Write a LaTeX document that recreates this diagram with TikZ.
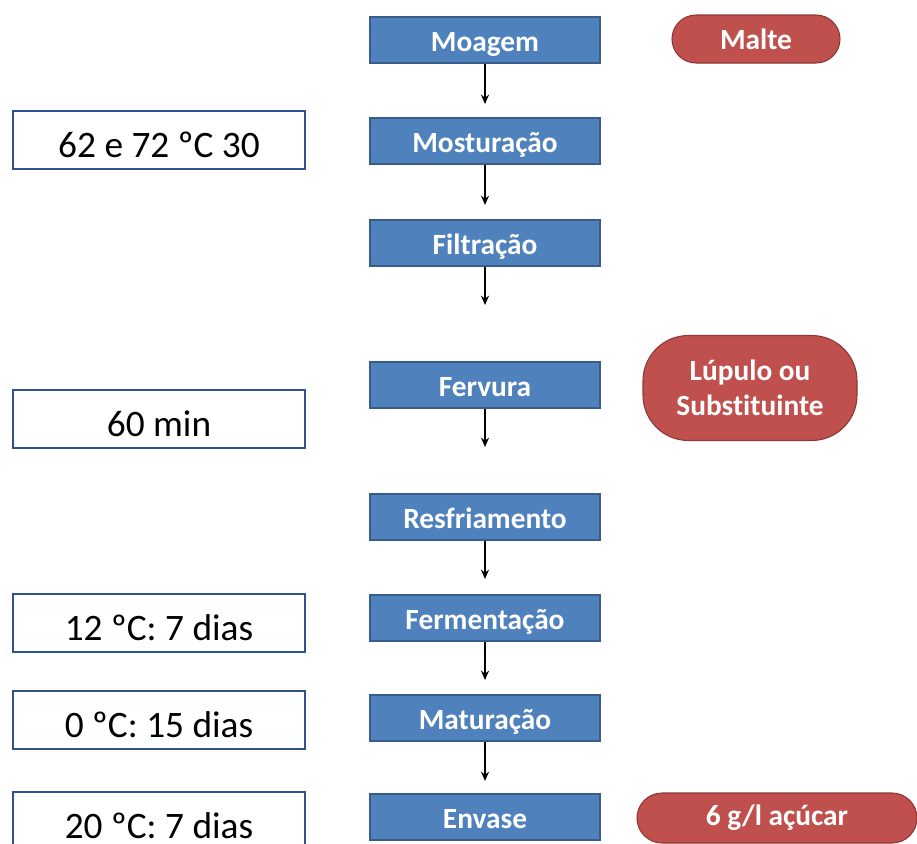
\documentclass[tikz,border=0pt]{standalone}
\usepackage{xcolor}
\usepackage{fontspec}
\setmainfont[Ligatures=NoCommon]{Carlito}
\usetikzlibrary{arrows.meta}

\definecolor{stepblue}{HTML}{4F81BD}
\definecolor{stepline}{HTML}{385D8A}
\definecolor{addred}{HTML}{C0504D}
\definecolor{addline}{HTML}{8C3836}
\definecolor{noteline}{HTML}{2F528F}

\begin{document}
\begin{tikzpicture}[x=0.75pt,y=-0.75pt,
	stepbox/.style={draw=stepline, line width=1.1pt, fill=stepblue, text=white,
		minimum width=172.5pt, minimum height=34.5pt, inner sep=0pt,
		text height=19pt, text depth=2pt,
		font=\fontsize{22}{26}\selectfont\bfseries},
	notebox/.style={draw=noteline, line width=1.5pt, fill=white,
		minimum width=219pt, minimum height=43.5pt, inner sep=0pt,
		text height=29pt, text depth=3pt,
		font=\fontsize{28}{32}\selectfont},
	addbox/.style={draw=addline, line width=0.8pt, fill=addred, text=white,
		inner sep=0pt, align=center,
		font=\fontsize{22}{26}\selectfont\bfseries},
	flow/.style={-{Stealth[length=7pt,width=6pt]}, line width=1.4pt}]
				\useasboundingbox (0,0) rectangle (917,843);
				
				% etapas do processo
				\node[stepbox] (moagem) at (485,40) {Moagem};
				\node[stepbox] (mosturacao) at (485,141) {Mosturação};
				\node[stepbox] (filtracao) at (485,243) {Filtração};
				\node[stepbox] (fervura) at (485,385) {Fervura};
				\node[stepbox] (resfriamento) at (485,517) {Resfriamento};
				\node[stepbox] (fermentacao) at (485,618) {Fermentação};
				\node[stepbox] (maturacao) at (485,718) {Maturação};
				\node[stepbox] (envase) at (485,817) {Envase};
				
				% condicoes
				\node[notebox] (temp1) at (159,140) {62 e 72 ºC 30};
				\node[notebox] (tempo1) at (159,419) {60 min};
				\node[notebox] (temp2) at (159,623) {12 ºC: 7 dias};
				\node[notebox] (temp3) at (159,720) {0 ºC: 15 dias};
				\node[notebox] (temp4) at (159,821) {20 ºC: 7 dias};
				
				% ingredientes
				\node[addbox, minimum width=126pt, minimum height=36pt, rounded corners=18pt] (malte) at (756,39) {Malte};
				\node[addbox, minimum width=160.5pt, minimum height=78.75pt, rounded corners=34pt] (lupulo) at (750,388) {Lúpulo ou\\Substituinte};
				\node[addbox, minimum width=210pt, minimum height=37.5pt, rounded corners=18.75pt] (acucar) at (777,818) {6 g/l açúcar};
				
				% setas
				\coordinate (s1) at (485,104);
				\coordinate (s2) at (485,205);
				\coordinate (s3) at (485,305);
				\coordinate (s4) at (485,447);
				\coordinate (s5) at (485,579);
				\coordinate (s6) at (485,680);
				\coordinate (s7) at (485,781);
				\draw[flow] (moagem.south) -- (s1);
				\draw[flow] (mosturacao.south) -- (s2);
				\draw[flow] (filtracao.south) -- (s3);
				\draw[flow] (fervura.south) -- (s4);
				\draw[flow] (resfriamento.south) -- (s5);
				\draw[flow] (fermentacao.south) -- (s6);
				\draw[flow] (maturacao.south) -- (s7);
			\end{tikzpicture}
\end{document}
